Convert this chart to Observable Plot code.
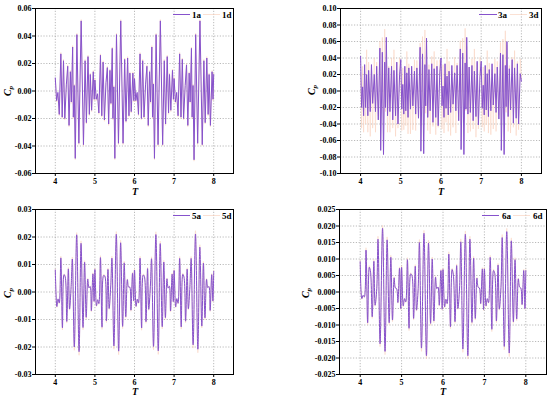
<!DOCTYPE html>
<html><head><meta charset="utf-8">
<script src="https://cdn.jsdelivr.net/npm/d3@7"></script>
<script src="https://cdn.jsdelivr.net/npm/@observablehq/plot@0.6"></script>
<style>
html,body{margin:0;padding:0;background:#fff;}
#wrap{position:relative;width:550px;height:397px;overflow:hidden;font-family:"Liberation Serif","Times New Roman",serif;font-weight:bold;}
#wrap svg{position:absolute;}
.lab{position:absolute;font-style:italic;font-weight:bold;white-space:nowrap;line-height:1;}
.ylab{transform:translate(-50%,-50%) rotate(-90deg);font-size:10px;}
.ylab sub{font-size:7px;vertical-align:-2px;}
.xlab{transform:translate(-50%,-50%);font-size:10px;}
.lg{position:absolute;font-size:9px;line-height:1;transform:translateY(-50%);}
.sw{position:absolute;height:0;}
</style>
</head><body><div id="wrap"></div>
<script>
// ---- x ticks shared ----
const xTicks = [4, 5, 6, 7, 8];
// ---- Panel 1 (1a / 1d), values in units of 1e-3 ----
const T1 = [
4.000,4.033,4.066,4.100,4.140,4.174,4.207,4.240,4.280,4.314,4.347,4.380,4.405,4.438,4.455,4.478,4.504,4.545,4.595,4.653,4.711,4.752,4.785,4.826,4.860,4.884,4.917,4.959,4.983,
5.000,5.033,5.066,5.100,5.140,5.174,5.207,5.240,5.280,5.314,5.347,5.380,5.405,5.438,5.455,5.478,5.504,5.545,5.595,5.653,5.711,5.752,5.785,5.826,5.860,5.884,5.917,5.959,5.983,
6.000,6.033,6.066,6.100,6.140,6.174,6.207,6.240,6.280,6.314,6.347,6.380,6.405,6.438,6.455,6.478,6.504,6.545,6.595,6.653,6.711,6.752,6.785,6.826,6.860,6.884,6.917,6.959,6.983,
7.000,7.033,7.066,7.100,7.140,7.174,7.207,7.240,7.280,7.314,7.347,7.380,7.405,7.438,7.455,7.478,7.504,7.545,7.595,7.653,7.711,7.752,7.785,7.826,7.860,7.884,7.917,7.959,7.983,
8.000];
const A1 = [
9.5,-7,-1,-17,27,-19,22,-20,5,18,-25,14,-8,32,-19,4,-49,41,-38,51,-39,22,-23,25,-17,12,-14,14,-6,
8,-6,-2,-16,26,-18,21,-21,6,17,-24,15,-9,31,-20,3,-49,41,-38,51,-38,23,-22,24,-18,13,-15,13,-7,
9,-7,-1,-17,27,-20,22,-19,5,18,-25,14,-8,32,-19,5,-49,41,-39,51,-39,22,-24,25,-16,12,-14,15,-6,
9,-8,-1,-18,27,-19,23,-20,4,19,-25,13,-8,31,-19,4,-50,41,-38,51,-39,22,-23,24,-17,12,-25,14,-6,
12];
const D1 = [
9,-8,-2,-18,28,-20,23,-21,6,19,-26,15,-9,33,-20,5,-50,42,-39,52,-40,23,-24,26,-18,13,-15,15,-7,
9,-7,-3,-17,27,-19,22,-22,7,18,-25,16,-10,32,-21,4,-50,42,-39,52,-39,24,-23,25,-19,14,-16,14,-8,
10,-8,-2,-18,28,-21,23,-20,6,19,-26,15,-9,33,-20,6,-50,42,-40,52,-40,23,-25,26,-17,13,-15,16,-7,
10,-9,-2,-19,28,-20,24,-21,5,20,-26,14,-9,32,-20,5,-51,42,-39,52,-40,23,-24,25,-18,13,-26,15,-7,
13];
const yTicks1 = [-0.06,-0.04,-0.02,0,0.02,0.04,0.06];

// ---- Panel 2 (3a / 3d) ----
const T2 = [
4.000,4.025,4.050,4.075,4.100,4.125,4.150,4.180,4.200,4.240,4.270,4.300,4.340,4.370,4.400,4.440,4.480,4.500,4.540,4.570,4.600,4.620,4.640,4.670,4.700,4.730,4.770,4.800,4.830,4.870,4.900,4.930,4.970,
5.000,5.025,5.050,5.075,5.100,5.125,5.150,5.180,5.200,5.240,5.270,5.300,5.340,5.370,5.400,5.440,5.480,5.500,5.540,5.570,5.600,5.620,5.640,5.670,5.700,5.730,5.770,5.800,5.830,5.870,5.900,5.930,5.970,
6.000,6.025,6.050,6.075,6.100,6.125,6.150,6.180,6.200,6.240,6.270,6.300,6.340,6.370,6.400,6.440,6.480,6.500,6.540,6.570,6.600,6.620,6.640,6.670,6.700,6.730,6.770,6.800,6.830,6.870,6.900,6.930,6.970,
7.000,7.025,7.050,7.075,7.100,7.125,7.150,7.180,7.200,7.240,7.270,7.300,7.340,7.370,7.400,7.440,7.480,7.500,7.540,7.570,7.600,7.620,7.640,7.670,7.700,7.730,7.770,7.800,7.830,7.870,7.900,7.930,7.970,
8.000];
const A2 = [
42,-20,5,-30,32,-20,20,-30,25,-25,32,-15,20,-25,30,-35,52,-72,47,-77,35,-20,65,-30,28,-25,30,-35,25,-30,35,-40,20,
38,-22,8,-28,30,-24,22,-32,28,-22,30,-18,24,-28,28,-33,53,-73,45,-76,32,-18,64,-32,26,-24,33,-38,27,-32,30,-42,22,
40,-18,6,-32,33,-21,18,-29,24,-26,31,-16,22,-24,31,-36,51,-71,46,-77,34,-22,65,-28,29,-26,31,-36,24,-31,36,-41,18,
36,-21,7,-29,31,-23,21,-31,26,-24,33,-17,21,-26,29,-34,46,-72,44,-77,31,-19,60,-31,27,-23,38,-39,28,-33,33,-40,21,
12];
const D2 = [
20,-45,30,-50,15,-40,50,-50,35,-55,25,-45,40,-50,35,-30,60,-40,65,-35,75,-25,55,-50,30,-50,40,-45,50,-55,35,-45,40,
22,-48,28,-47,18,-42,48,-52,33,-52,27,-47,38,-48,37,-32,58,-42,66,-37,74,-27,57,-48,32,-52,42,-43,48,-53,37,-44,38,
18,-46,32,-51,16,-38,51,-49,36,-54,24,-44,41,-51,34,-31,61,-39,64,-36,76,-24,54,-51,29,-49,39,-46,51,-56,34,-46,41,
21,-44,29,-49,17,-41,49,-51,34,-53,26,-46,39,-49,36,-29,59,-41,63,-34,73,-26,56,-49,31,-51,41,-44,49,-54,36,-47,39,
15];
const yTicks2 = [-0.10,-0.08,-0.06,-0.04,-0.02,0,0.02,0.04,0.06,0.08,0.10];

// ---- Panels 3 & 4 share sampling times ----
const T56 = [
4.00,4.04,4.07,4.10,4.14,4.18,4.22,4.25,4.29,4.33,4.36,4.40,4.43,4.48,4.54,4.60,4.65,4.70,4.74,4.78,4.82,4.85,4.88,4.91,4.95,4.98,
5.00,5.04,5.07,5.10,5.14,5.18,5.22,5.25,5.29,5.33,5.36,5.40,5.43,5.48,5.54,5.60,5.65,5.70,5.74,5.78,5.82,5.85,5.88,5.91,5.95,5.98,
6.00,6.04,6.07,6.10,6.14,6.18,6.22,6.25,6.29,6.33,6.36,6.40,6.43,6.48,6.54,6.60,6.65,6.70,6.74,6.78,6.82,6.85,6.88,6.91,6.95,6.98,
7.00,7.04,7.07,7.10,7.14,7.18,7.22,7.25,7.29,7.33,7.36,7.40,7.43,7.48,7.54,7.60,7.65,7.70,7.74,7.78,7.82,7.85,7.88,7.91,7.95,7.98,
8.00];
// ---- Panel 3 (5a / 5d) ----
const A5 = [
8.0,-5.3,-2.5,-4.0,12.4,-13.0,6.3,5.5,-10.7,8.4,-6.2,2.0,12.0,-20.0,20.8,-21.7,17.7,-12.9,10.8,-9.2,4.7,1.5,2.0,-6.8,6.6,-3.4,
8.2,-5.0,-2.8,-4.2,12.5,-12.8,6.0,5.8,-10.5,8.2,-6.0,2.2,12.3,-19.6,21.0,-21.5,17.9,-12.5,10.6,-9.0,4.5,1.8,1.8,-6.6,6.8,-3.2,
8.0,-5.2,-2.6,-4.0,12.3,-13.1,6.2,5.6,-10.8,8.5,-6.3,1.9,12.1,-19.8,20.9,-21.4,17.6,-12.6,10.9,-9.3,4.8,1.4,2.1,-6.9,6.5,-3.5,
7.8,-5.4,-2.4,-4.1,12.2,-12.7,6.4,5.4,-10.6,8.3,-6.1,2.1,12.2,-19.2,21.1,-20.8,16.3,-12.4,10.5,-9.4,4.6,1.6,2.0,-6.7,6.3,-3.3,
7.5];
const D5 = [
8.4,-5.6,-2.7,-4.3,13.0,-13.8,6.6,5.8,-11.3,8.9,-6.6,2.1,12.7,-21.2,21.6,-23.0,18.6,-13.7,11.4,-9.8,5.0,1.6,2.1,-7.2,7.0,-3.6,
8.7,-5.3,-3.0,-4.5,13.2,-13.6,6.4,6.1,-11.1,8.7,-6.4,2.3,13.0,-20.8,22.0,-22.8,18.8,-13.3,11.2,-9.5,4.8,1.9,1.9,-7.0,7.2,-3.4,
8.5,-5.5,-2.8,-4.2,13.0,-13.9,6.6,5.9,-11.4,9.0,-6.7,2.0,12.8,-21.0,21.9,-22.7,18.5,-13.4,11.5,-9.9,5.1,1.5,2.2,-7.3,6.9,-3.7,
8.3,-5.7,-2.5,-4.3,12.9,-13.5,6.8,5.7,-11.2,8.8,-6.5,2.2,12.9,-20.4,22.3,-22.1,17.2,-13.1,11.1,-10.0,4.9,1.7,2.1,-7.1,6.7,-3.5,
7.9];
const yTicks5 = [-0.03,-0.02,-0.01,0,0.01,0.02,0.03];
// ---- Panel 4 (6a / 6d) ----
const A6 = [
9.2,-2.0,-1.0,-1.5,12.7,-9.3,7.5,6.0,-7.5,9.3,-4.0,1.0,16.0,-15.7,19.3,-18.0,15.8,-9.3,10.5,-8.5,4.3,1.2,1.0,-3.2,7.2,-5.0,
7.5,-4.2,-2.0,-3.0,9.8,-11.0,5.5,5.0,-8.0,7.8,-5.5,1.0,15.0,-17.0,17.8,-19.3,14.8,-9.5,10.0,-8.8,4.5,1.0,1.5,-4.0,6.5,-5.2,
6.8,-4.5,-2.2,-3.5,11.5,-10.5,6.8,5.2,-9.0,8.0,-5.0,1.2,15.2,-17.3,17.5,-19.3,16.0,-9.2,10.2,-8.0,4.2,1.4,1.2,-3.5,7.0,-5.3,
7.0,-4.2,-2.0,-3.2,10.5,-11.3,6.5,5.6,-8.8,8.2,-5.2,1.3,16.5,-16.5,18.3,-18.5,15.5,-9.0,9.8,-8.2,4.0,1.5,1.2,-3.8,6.5,-5.0,
6.5];
const D6 = [
9.7,-2.2,-1.1,-1.7,13.4,-9.9,8.0,6.3,-8.0,9.9,-4.3,1.1,16.9,-16.6,20.2,-19.0,16.7,-9.9,11.1,-9.0,4.6,1.3,1.1,-3.4,7.6,-5.3,
8.0,-4.5,-2.1,-3.2,10.4,-11.7,5.8,5.3,-8.5,8.3,-5.8,1.1,15.9,-18.0,18.7,-20.3,15.7,-10.1,10.6,-9.3,4.8,1.1,1.6,-4.3,6.9,-5.5,
7.2,-4.8,-2.3,-3.7,12.2,-11.1,7.2,5.5,-9.5,8.5,-5.3,1.3,16.1,-18.3,18.5,-20.3,16.9,-9.8,10.8,-8.5,4.5,1.5,1.3,-3.7,7.4,-5.6,
7.4,-4.5,-2.1,-3.4,11.1,-12.0,6.9,5.9,-9.3,8.7,-5.5,1.4,17.4,-17.5,19.3,-19.6,16.4,-9.5,10.4,-8.7,4.2,1.6,1.3,-4.0,6.9,-5.3,
6.9];
const yTicks6 = [-0.025,-0.020,-0.015,-0.010,-0.005,0,0.005,0.010,0.015,0.020,0.025];

const purple = "#8652cc";
const pale = "#f8cdb8";

const panels = [
  {T:T1, A:A1, D:D1, yt:yTicks1, dec:2, names:["1a","1d"], curve:"linear",
   left:0, top:0, w:275, h:200, ml:35, mr:42, mt:8, mb:27,
   ylab:[9,91], xlab:[135,192], lg:{y:14.5, a:[173,190], ta:192, d:[203,220], td:222}},
  {T:T2, A:A2, D:D2, yt:yTicks2, dec:2, names:["3a","3d"], curve:"linear",
   left:275, top:0, w:275, h:200, ml:65, mr:9, mt:8, mb:27,
   ylab:[313,90], xlab:[441,192], lg:{y:14.5, a:[479,497], ta:498, d:[510,527], td:529}},
  {T:T56, A:A5, D:D5, yt:yTicks5, dec:2, names:["5a","5d"], curve:"catmull-rom",
   left:0, top:200, w:275, h:197, ml:35, mr:42, mt:9, mb:23,
   ylab:[9,293], xlab:[135,392], lg:{y:215.5, a:[173,190], ta:192, d:[203,220], td:222}},
  {T:T56, A:A6, D:D6, yt:yTicks6, dec:3, names:["6a","6d"], curve:"catmull-rom",
   left:275, top:200, w:275, h:197, ml:64, mr:4, mt:9, mb:23,
   ylab:[307,293], xlab:[443,392], lg:{y:215.5, a:[482,499], ta:502, d:[513,530], td:533}}
];

const wrap = document.getElementById("wrap");
for (const p of panels) {
  const rowsA = p.T.map((t, i) => ({T: t, v: p.A[i] * 1e-3}));
  const rowsD = p.T.map((t, i) => ({T: t, v: p.D[i] * 1e-3}));
  const lo = p.yt[0], hi = p.yt[p.yt.length - 1];
  const fmt = d => {const s = (+d).toFixed(p.dec); return s.startsWith("-") && +s === 0 ? s.slice(1) : s;};
  const svg = Plot.plot({
    width: p.w, height: p.h,
    marginLeft: p.ml, marginRight: p.mr, marginTop: p.mt, marginBottom: p.mb,
    x: {domain: [3.5, 8.5]},
    y: {domain: [lo, hi]},
    style: {fontFamily: "'Liberation Serif', 'Times New Roman', serif", fontSize: "8px", fontWeight: "bold", color: "#000", background: "transparent", overflow: "visible"},
    marks: [
      Plot.gridX(xTicks, {stroke: "#a8a8a8", strokeOpacity: 1, strokeDasharray: "1.2,1.6", strokeWidth: 0.8}),
      Plot.gridY(p.yt, {stroke: "#a8a8a8", strokeOpacity: 1, strokeDasharray: "1.2,1.6", strokeWidth: 0.8}),
      Plot.line(rowsD, {x: "T", y: "v", stroke: pale, strokeOpacity: 0.6, strokeWidth: 0.8, curve: p.curve}),
      Plot.line(rowsA, {x: "T", y: "v", stroke: purple, strokeWidth: 1, curve: p.curve}),
      Plot.axisX(xTicks, {tickSize: 3, tickPadding: 2, tickFormat: d => String(d), label: null}),
      Plot.axisY(p.yt, {tickSize: 3, tickPadding: 1, tickFormat: fmt, label: null}),
      Plot.frame({stroke: "#000", strokeWidth: 1})
    ]
  });
  svg.style.left = p.left + "px";
  svg.style.top = p.top + "px";
  wrap.appendChild(svg);

  const yl = document.createElement("div");
  yl.className = "lab ylab";
  yl.style.left = p.ylab[0] + "px"; yl.style.top = p.ylab[1] + "px";
  yl.innerHTML = "C<sub>p</sub>";
  wrap.appendChild(yl);

  const xl = document.createElement("div");
  xl.className = "lab xlab";
  xl.style.left = p.xlab[0] + "px"; xl.style.top = p.xlab[1] + "px";
  xl.textContent = "T";
  wrap.appendChild(xl);

  const L = p.lg;
  const s1 = document.createElement("div");
  s1.className = "sw";
  s1.style.cssText = `left:${L.a[0]}px;top:${L.y - 0.6}px;width:${L.a[1] - L.a[0]}px;border-top:1.2px solid ${purple};`;
  wrap.appendChild(s1);
  const t1 = document.createElement("div");
  t1.className = "lg"; t1.style.left = L.ta + "px"; t1.style.top = L.y + "px"; t1.textContent = p.names[0];
  wrap.appendChild(t1);
  const s2 = document.createElement("div");
  s2.className = "sw";
  s2.style.cssText = `left:${L.d[0]}px;top:${L.y - 0.5}px;width:${L.d[1] - L.d[0]}px;border-top:1px solid ${pale};opacity:0.6;`;
  wrap.appendChild(s2);
  const t2 = document.createElement("div");
  t2.className = "lg"; t2.style.left = L.td + "px"; t2.style.top = L.y + "px"; t2.textContent = p.names[1];
  wrap.appendChild(t2);
}
</script>
</body></html>
